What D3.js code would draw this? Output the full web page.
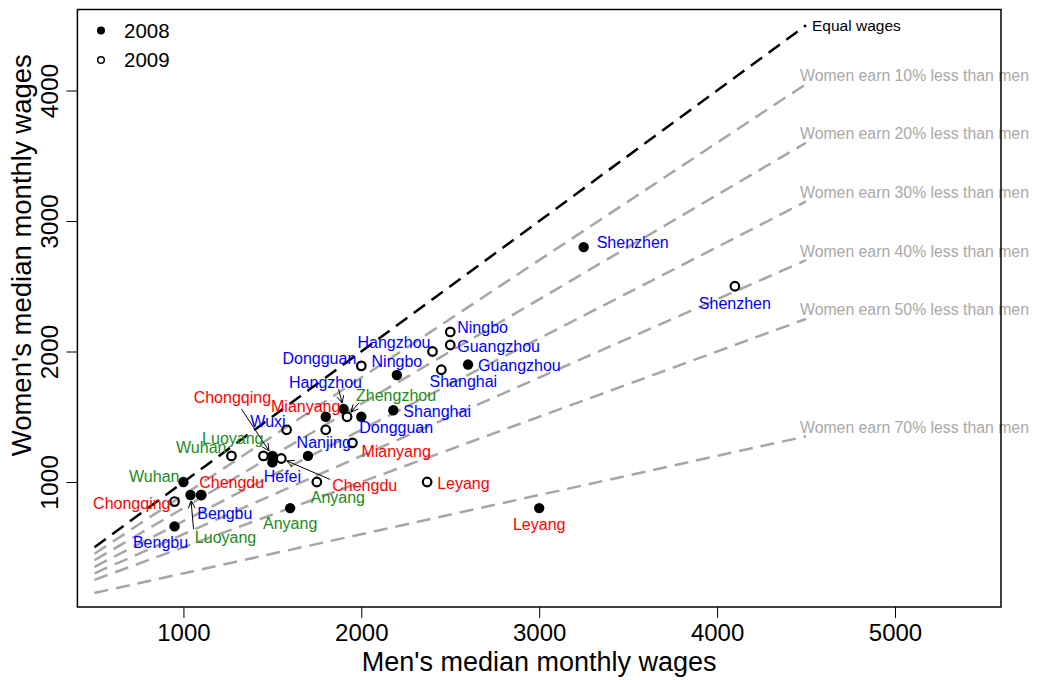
<!DOCTYPE html>
<html>
<head>
<meta charset="utf-8">
<script src="https://cdn.jsdelivr.net/npm/d3@7"></script>
<style>
  body { margin: 0; background: #fff; }
  svg { font-family: "Liberation Sans", Arial, sans-serif; }
</style>
</head>
<body>
<svg id="chart" width="1037" height="680"></svg>
<script>
// cities and their colour group (east / central / west)
const cities = ['Shenzhen', 'Guangzhou', 'Ningbo', 'Shanghai', 'Hangzhou', 'Dongguan', 'Zhengzhou', 'Mianyang', 'Nanjing',
  'Chongqing', 'Wuxi', 'Hefei', 'Luoyang', 'Chengdu', 'Wuhan', 'Anyang', 'Bengbu', 'Leyang'];
const cityGroup = ['east', 'east', 'east', 'east', 'east', 'east', 'central', 'west', 'east',
  'west', 'east', 'east', 'central', 'west', 'central', 'central', 'east', 'west'];

// median monthly wages (null = not visible in the picture)
const men2008 = [3250, 2600, 2200, 2180, 1900, 2000, null, 1800, 1700, 1500, null, 1500, 1040, 1100, 1000, 1600, 950, 3000];
const women2008 = [2800, 1900, 1820, 1550, 1560, 1500, null, 1500, 1200, 1200, null, 1150, 900, 900, 1000, 800, 660, 800];
const men2009 = [4100, 2500, 2500, 2450, 2400, 2000, 1920, 1950, 1800, 950, 1580, null, 1450, 1550, 1270, 1750, 1100, 2370];
const women2009 = [2500, 2050, 2150, 1860, 2000, 1890, 1500, 1300, 1400, 850, 1400, null, 1200, 1180, 1200, 1000, 900, 1000];

// reference lines: women earn p less than men
const gapShares = [0, 0.1, 0.2, 0.3, 0.4, 0.5, 0.7];
const lineMen = [500, 4500];
const xTicks = [1000, 2000, 3000, 4000, 5000];
const yTicks = [1000, 2000, 3000, 4000];
const years = ['2008', '2009'];

const groupColor = { east: '#0000ff', central: '#228b22', west: '#ff0000' };

// label placement [dx, dy, anchor] relative to the point
const labelPos = {
  'Shenzhen-2008': [13, -5, 'start'], 'Leyang-2008': [0, 16, 'middle'], 'Guangzhou-2008': [10, 1, 'start'],
  'Ningbo-2008': [0, -14, 'middle'], 'Shanghai-2008': [10, 1, 'start'], 'Hangzhou-2008': [-18, -27, 'middle'],
  'Dongguan-2008': [-2, 11, 'start'], 'Mianyang-2008': [-20, -10, 'middle'], 'Chongqing-2008': [-40, -58, 'middle'],
  'Hefei-2008': [10, 14, 'middle'], 'Anyang-2008': [0, 15, 'middle'], 'Wuhan-2008': [-4, -6, 'end'],
  'Luoyang-2008': [35, 42, 'middle'], 'Chengdu-2008': [-2, -13, 'start'], 'Bengbu-2008': [-14, 16, 'middle'],
  'Shenzhen-2009': [0, 17, 'middle'], 'Leyang-2009': [10, 1, 'start'], 'Ningbo-2009': [7, -5, 'start'],
  'Guangzhou-2009': [7, 1, 'start'], 'Hangzhou-2009': [-2, -9, 'end'], 'Shanghai-2009': [22, 12, 'middle'],
  'Dongguan-2009': [-5, -7, 'end'], 'Zhengzhou-2009': [49, -21, 'middle'], 'Nanjing-2009': [-2, 13, 'middle'],
  'Mianyang-2009': [9, 9, 'start'], 'Wuxi-2009': [-1, -8, 'end'], 'Luoyang-2009': [0, -17, 'end'],
  'Wuhan-2009': [-5, -8, 'end'], 'Chengdu-2009': [51, 27, 'start'], 'Anyang-2009': [21, 15, 'middle'],
  'Chongqing-2009': [-4, 2, 'end'], 'Bengbu-2009': [-4, 18, 'start']
};
// arrow tails relative to the point
const arrowFrom = {
  'Hangzhou-2008': [-5, -20], 'Chongqing-2008': [-31, -47], 'Zhengzhou-2009': [12, -14],
  'Luoyang-2008': [3, 34], 'Chengdu-2009': [49, 21]
};

const svg = d3.select('#chart');
const plotLeft = 77.4, plotRight = 1001, plotTop = 9.5, plotBottom = 607;

const x = d3.scaleLinear().domain([404, 5596]).range([plotLeft, plotRight]);
const y = d3.scaleLinear().domain([42, 4621]).range([plotBottom, plotTop]);

// reference lines
gapShares.forEach(p => {
  const pts = lineMen.map(m => [m, m * (1 - p)]);
  svg.append('path')
    .attr('d', d3.line().x(d => x(d[0])).y(d => y(d[1]))(pts))
    .attr('fill', 'none')
    .attr('stroke', p === 0 ? '#000' : '#a6a6a6')
    .attr('stroke-width', 2.5)
    .attr('stroke-dasharray', '14,8');

  const endX = x(lineMen[1]), endY = y(lineMen[1] * (1 - p));
  if (p === 0) {
    svg.append('text')
      .attr('x', endX + 6).attr('y', endY).attr('dy', '0.35em')
      .style('font-size', '15.5px').attr('fill', '#000')
      .text('Equal wages');
  } else {
    svg.append('text')
      .attr('x', endX - 6).attr('y', endY - 9).attr('dy', '0.35em')
      .style('font-size', '15.8px').attr('fill', '#a9a9a9')
      .text(`Women earn ${Math.round(p * 100)}% less than men`);
  }
});

// box
svg.append('rect')
  .attr('x', plotLeft).attr('y', plotTop)
  .attr('width', plotRight - plotLeft).attr('height', plotBottom - plotTop)
  .attr('fill', 'none').attr('stroke', '#000').attr('stroke-width', 1.5);

// axes
const xAxis = svg.append('g')
  .attr('transform', `translate(0, ${plotBottom})`)
  .call(d3.axisBottom(x).tickValues(xTicks).tickSize(11).tickPadding(6).tickFormat(d3.format('d')));
xAxis.select('.domain').remove();
xAxis.selectAll('text').style('font-size', '24px').attr('fill', '#000');

const yAxis = svg.append('g')
  .attr('transform', `translate(${plotLeft}, 0)`)
  .call(d3.axisLeft(y).tickValues(yTicks).tickSize(11).tickFormat(d3.format('d')));
yAxis.select('.domain').remove();
yAxis.selectAll('text')
  .style('font-size', '24.5px').attr('fill', '#000')
  .attr('text-anchor', 'middle')
  .attr('x', 0).attr('dy', 0)
  .attr('transform', 'translate(-28, 0) rotate(-90)')
  .attr('dominant-baseline', 'central');

svg.append('text')
  .attr('x', (x(1000) + x(5000)) / 2).attr('y', 671)
  .attr('text-anchor', 'middle')
  .style('font-size', '27px')
  .text("Men's median monthly wages");

svg.append('text')
  .attr('transform', `translate(21, ${(plotTop + plotBottom) / 2 - 53}) rotate(-90)`)
  .attr('text-anchor', 'middle')
  .attr('dominant-baseline', 'central')
  .style('font-size', '27.5px')
  .text("Women's median monthly wages");

// points
const series = [
  { year: '2008', men: men2008, women: women2008 },
  { year: '2009', men: men2009, women: women2009 }
];
const points = [];
series.forEach(s => {
  cities.forEach((c, i) => {
    if (s.men[i] == null) return;
    points.push({ city: c, year: s.year, group: cityGroup[i], m: s.men[i], w: s.women[i] });
  });
});

svg.selectAll('circle.p2008')
  .data(points.filter(d => d.year === '2008'))
  .enter().append('circle')
  .attr('class', 'p2008')
  .attr('cx', d => x(d.m)).attr('cy', d => y(d.w))
  .attr('r', 5.2).attr('fill', '#000');

svg.selectAll('circle.p2009')
  .data(points.filter(d => d.year === '2009'))
  .enter().append('circle')
  .attr('class', 'p2009')
  .attr('cx', d => x(d.m)).attr('cy', d => y(d.w))
  .attr('r', 4.3).attr('fill', 'none').attr('stroke', '#000').attr('stroke-width', 2.2);

// arrows
points.forEach(d => {
  const key = `${d.city}-${d.year}`;
  const a = arrowFrom[key];
  if (!a) return;
  const px = x(d.m), py = y(d.w);
  const sx = px + a[0], sy = py + a[1];
  const ang = Math.atan2(py - sy, px - sx);
  const ex = px - 6 * Math.cos(ang), ey = py - 6 * Math.sin(ang);
  const hl = 8, ha = Math.PI / 7;
  svg.append('path')
    .attr('d', `M${sx},${sy}L${ex},${ey}` +
      `M${ex - hl * Math.cos(ang - ha)},${ey - hl * Math.sin(ang - ha)}L${ex},${ey}` +
      `L${ex - hl * Math.cos(ang + ha)},${ey - hl * Math.sin(ang + ha)}`)
    .attr('fill', 'none').attr('stroke', '#000').attr('stroke-width', 1);
});

// labels
svg.selectAll('text.city')
  .data(points.filter(d => labelPos[`${d.city}-${d.year}`]))
  .enter().append('text')
  .attr('class', 'city')
  .attr('x', d => x(d.m) + labelPos[`${d.city}-${d.year}`][0])
  .attr('y', d => y(d.w) + labelPos[`${d.city}-${d.year}`][1])
  .attr('dy', '0.35em')
  .attr('text-anchor', d => labelPos[`${d.city}-${d.year}`][2])
  .style('font-size', '16px')
  .attr('fill', d => groupColor[d.group])
  .text(d => d.city);

// legend
const legend = svg.append('g');
years.forEach((yr, i) => {
  const ly = 30.5 + i * 29.5;
  legend.append('circle')
    .attr('cx', 101).attr('cy', ly)
    .attr('r', yr === '2008' ? 4 : 3.3)
    .attr('fill', yr === '2008' ? '#000' : 'none')
    .attr('stroke', '#000').attr('stroke-width', yr === '2008' ? 0 : 1.5);
  legend.append('text')
    .attr('x', 124).attr('y', ly).attr('dy', '0.35em')
    .style('font-size', '20.5px')
    .text(yr);
});
</script>
</body>
</html>
